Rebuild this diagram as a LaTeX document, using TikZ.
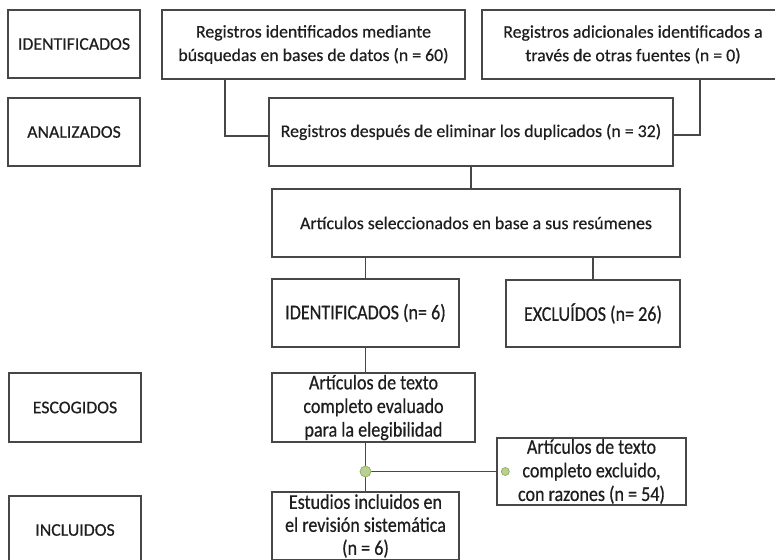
\documentclass[tikz,border=0pt]{standalone}
\usepackage{fontspec}
\setmainfont{Carlito}[FakeBold=0.5]
\newfontfamily\tallfont{Carlito}[FakeBold=0.5, FakeStretch=0.86]
\definecolor{edge}{HTML}{474747}
\definecolor{ink}{HTML}{1E1E1E}
\definecolor{dotfill}{HTML}{B9CF93}
\definecolor{dotline}{HTML}{8FAE5A}
\begin{document}
\begin{tikzpicture}[x=1pt,y=-1pt,
  box/.style={draw=edge, line width=1.4pt, fill=white, text=ink, align=center,
    inner sep=0pt, font=\fontsize{17.8}{23.5}\selectfont},
  tallbox/.style={box, font=\tallfont\fontsize{21}{23.6}\selectfont},
  conn/.style={draw=edge, line width=1.4pt},
  gdot/.style={circle, draw=dotline, fill=dotfill, line width=0.7pt, inner sep=0pt, minimum size=#1}]
\useasboundingbox (0,0) rectangle (775,559);
\clip (0,0) rectangle (775,559);
% stage labels
\node[box, minimum width=132, minimum height=68] (L1) at (74,44) {IDENTIFICADOS};
\node[box, minimum width=132, minimum height=68] (L2) at (74,132) {ANALIZADOS};
\node[box, minimum width=132, minimum height=69] (L3) at (75,407.5) {ESCOGIDOS};
\node[box, minimum width=132, minimum height=68] (L4) at (75,530) {INCLUIDOS};
% flow boxes
\node[box, minimum width=303, minimum height=69] (b1) at (313.5,44.5) {Registros identificados mediante\\búsquedas en bases de datos (n = 60)};
\node[box, minimum width=302, minimum height=69] (b2) at (633,44.5) {Registros adicionales identificados a\\través de otras fuentes (n = 0)};
\node[box, minimum width=404, minimum height=68] (b3) at (471,132) {Registros después de eliminar los duplicados (n = 32)};
\node[box, minimum width=408, minimum height=68] (b4) at (476,223) {Artículos seleccionados en base a sus resúmenes};
\node[tallbox, minimum width=187, minimum height=68] (b5) at (365.5,313) {IDENTIFICADOS (n= 6)};
\node[tallbox, minimum width=174, minimum height=67] (b6) at (593,313.5) {EXCLUÍDOS (n= 26)};
\node[tallbox, minimum width=203, minimum height=69] (b7) at (373.5,407.5) {Artículos de texto\\completo evaluado\\para la elegibilidad};
\node[tallbox, minimum width=189, minimum height=67] (b8) at (591.5,471.5) {Artículos de texto\\completo excluido,\\con razones (n = 54)};
\node[tallbox, font=\tallfont\fontsize{21}{23}\selectfont, minimum width=187, minimum height=68] (b9) at (365.5,526) {Estudios incluidos en\\el revisión sistemática\\(n = 6)};
% connectors
\coordinate (c1) at (225,79);
\coordinate (c2) at (700,79);
\draw[conn] (c1) |- ([yshift=-4pt]b3.west);
\draw[conn] (c2) |- ([yshift=-3pt]b3.east);
\draw[conn] (b3.south) -- (b3.south |- b4.north);
\draw[conn] (b5.north |- b4.south) -- (b5.north);
\draw[conn] (b6.north |- b4.south) -- (b6.north);
\draw[conn] (b5.south) -- (b5.south |- b7.north);
\coordinate (j) at (b9.north |- b8.west);
\draw[conn] (b9.north |- b7.south) -- (b9.north);
\draw[conn] (j) -- (b8.west);
\node[gdot=11pt] (d1) at (j) {};
\node[gdot=8pt] (d2) at ([xshift=9pt]b8.west) {};
\end{tikzpicture}
\end{document}
